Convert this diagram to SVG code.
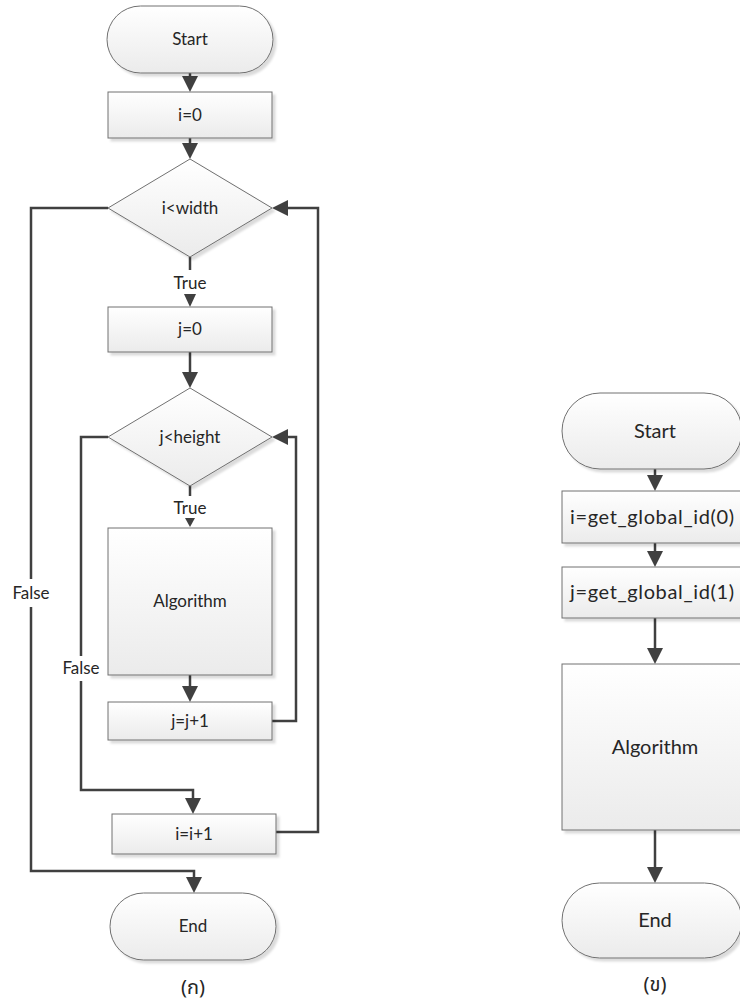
<svg xmlns="http://www.w3.org/2000/svg" width="740" height="1004" viewBox="0 0 740 1004">
  <style>
    .shape { fill: url(#fillGrad); stroke: #707070; stroke-width: 1; filter: url(#shadow); }
    .label { font-family: "Lato", "Liberation Sans", sans-serif; font-size: 17px; fill: #262626; text-anchor: middle; }
    .labelR { font-family: "Lato", "Liberation Sans", sans-serif; font-size: 20px; fill: #262626; text-anchor: middle; }
    .caption { font-family: "Noto Sans Thai", "Noto Sans", "DejaVu Sans", sans-serif; font-size: 20px; fill: #262626; text-anchor: middle; }
    .wire { fill: none; stroke: #404040; stroke-width: 2.5; }
    .big { marker-end: url(#arrow); }
    .small { marker-end: url(#arrowSmall); }
    .tiny { marker-end: url(#arrowTiny); }
  </style>
  <defs>
    <linearGradient id="fillGrad" x1="0" y1="0" x2="0" y2="1">
      <stop offset="0" stop-color="#ffffff"/>
      <stop offset="1" stop-color="#ebebeb"/>
    </linearGradient>
    <filter id="shadow" x="-10%" y="-10%" width="130%" height="130%">
      <feDropShadow dx="3" dy="3" stdDeviation="1.2" flood-color="#000000" flood-opacity="0.14"/>
    </filter>
    <marker id="arrow" markerUnits="userSpaceOnUse" viewBox="0 0 16 16" markerWidth="16" markerHeight="16" refX="12" refY="8" orient="auto">
      <path d="M0,0 L16,8 L0,16 z" fill="#404040"/>
    </marker>
    <marker id="arrowSmall" markerUnits="userSpaceOnUse" viewBox="0 0 13 12" markerWidth="13" markerHeight="12" refX="9" refY="6" orient="auto">
      <path d="M0,0 L13,6 L0,12 z" fill="#404040"/>
    </marker>
    <marker id="arrowTiny" markerUnits="userSpaceOnUse" viewBox="0 0 9 10" markerWidth="9" markerHeight="10" refX="5" refY="5" orient="auto">
      <path d="M0,0 L9,5 L0,10 z" fill="#404040"/>
    </marker>
  </defs>

  <!-- connectors -->
  <g id="connectors">
    <!-- nested loop flowchart -->
    <path class="wire big" d="M190,73 V88"/>
    <path class="wire big" d="M190,138 V155"/>
    <path class="wire" d="M190,257 V270"/>
    <path class="wire small" d="M190,297 V303"/>
    <path class="wire big" d="M190,352 V384"/>
    <path class="wire" d="M190,486 V496"/>
    <path class="wire tiny" d="M190,520 V523"/>
    <path class="wire big" d="M190,675 V698"/>
    <path class="wire big" d="M272,721 H296 V437 H276"/>
    <path class="wire big" d="M108,437 H81 V790 H193 V810"/>
    <path class="wire big" d="M276,832 H318 V208 H276"/>
    <path class="wire big" d="M108,208 H31 V871 H194 V889"/>
    <!-- parallel kernel flowchart -->
    <path class="wire big" d="M655,469 V487"/>
    <path class="wire big" d="M655,543 V563"/>
    <path class="wire big" d="M655,618 V660"/>
    <path class="wire big" d="M655,830 V879"/>
    <!-- edge labels -->
    <text class="label" x="190" y="289">True</text>
    <text class="label" x="190" y="514">True</text>
    <rect x="60" y="656" width="42" height="25" fill="#ffffff"/>
    <text class="label" x="81" y="674">False</text>
    <rect x="10" y="579" width="42" height="28" fill="#ffffff"/>
    <text class="label" x="31" y="599">False</text>
  </g>

  <!-- nested loop flowchart nodes -->
  <g id="start1">
    <rect class="shape" x="107" y="6" width="166" height="67" rx="33.5"/>
    <text class="label" x="190" y="45">Start</text>
  </g>
  <g id="init_i">
    <rect class="shape" x="108" y="92" width="164" height="46"/>
    <text class="label" x="190" y="121">i=0</text>
  </g>
  <g id="cond_i">
    <polygon class="shape" points="190,159 272,208 190,257 108,208"/>
    <text class="label" x="190" y="214">i&lt;width</text>
  </g>
  <g id="init_j">
    <rect class="shape" x="108" y="307" width="164" height="45"/>
    <text class="label" x="190" y="335">j=0</text>
  </g>
  <g id="cond_j">
    <polygon class="shape" points="190,388 272,437 190,486 108,437"/>
    <text class="label" x="190" y="443">j&lt;height</text>
  </g>
  <g id="algorithm1">
    <rect class="shape" x="108" y="528" width="164" height="147"/>
    <text class="label" x="190" y="607">Algorithm</text>
  </g>
  <g id="inc_j">
    <rect class="shape" x="108" y="702" width="164" height="38"/>
    <text class="label" x="190" y="727">j=j+1</text>
  </g>
  <g id="inc_i">
    <rect class="shape" x="112" y="814" width="164" height="40"/>
    <text class="label" x="194" y="840">i=i+1</text>
  </g>
  <g id="end1">
    <rect class="shape" x="110" y="893" width="166" height="67" rx="33.5"/>
    <text class="label" x="193" y="932">End</text>
  </g>
  <text class="caption" x="193" y="994">(ก)</text>

  <!-- parallel kernel flowchart nodes -->
  <g id="start2">
    <rect class="shape" x="562" y="393" width="180" height="76" rx="38"/>
    <text class="labelR" x="655" y="438">Start</text>
  </g>
  <g id="get_i">
    <rect class="shape" x="562" y="491" width="186" height="52"/>
    <text class="labelR" x="652" y="524" textLength="164" lengthAdjust="spacing">i=get_global_id(0)</text>
  </g>
  <g id="get_j">
    <rect class="shape" x="562" y="567" width="186" height="51"/>
    <text class="labelR" x="652" y="599" textLength="164" lengthAdjust="spacing">j=get_global_id(1)</text>
  </g>
  <g id="algorithm2">
    <rect class="shape" x="562" y="664" width="186" height="166"/>
    <text class="labelR" x="655" y="754">Algorithm</text>
  </g>
  <g id="end2">
    <rect class="shape" x="562" y="883" width="180" height="75" rx="37.5"/>
    <text class="labelR" x="655" y="927">End</text>
  </g>
  <text class="caption" x="655" y="991">(ข)</text>
</svg>
